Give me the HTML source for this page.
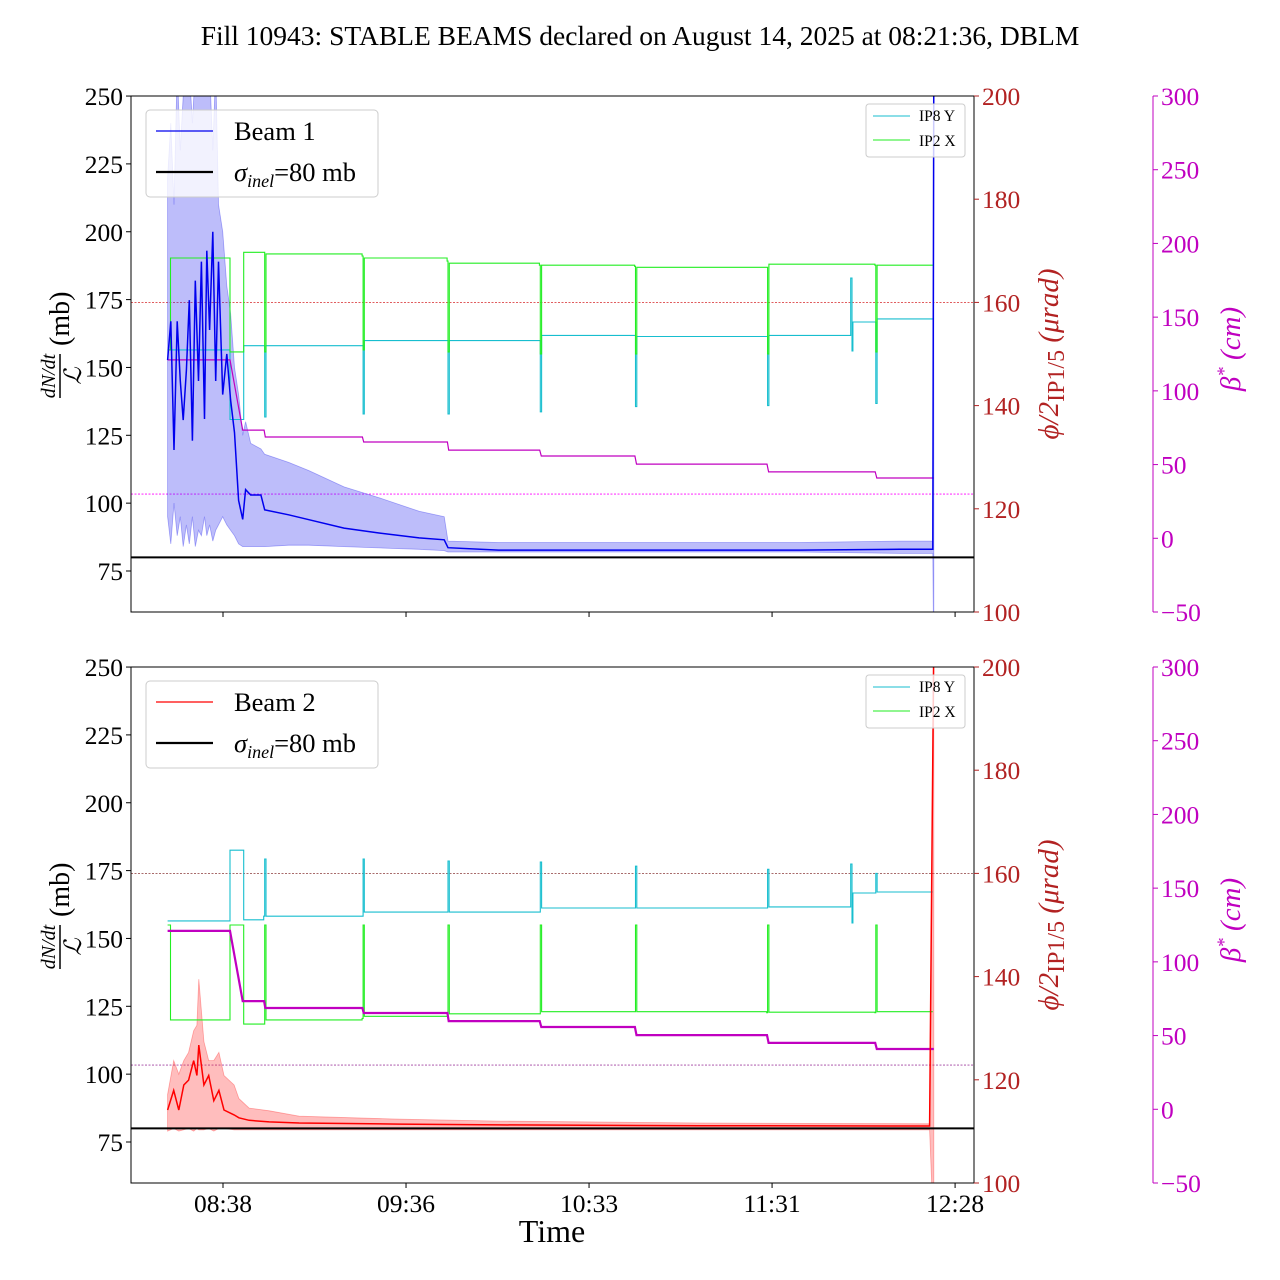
<!DOCTYPE html>
<html><head><meta charset="utf-8">
<style>
body{margin:0;background:#fff;}
svg{display:block;font-family:"Liberation Serif",serif;}
</style></head>
<body>
<svg id="chart" width="1280" height="1280" viewBox="0 0 1280 1280" xmlns="http://www.w3.org/2000/svg">
<defs>
<clipPath id="clipTop"><rect x="131" y="96" width="843" height="516"/></clipPath>
<clipPath id="clipBot"><rect x="131" y="667" width="843" height="516"/></clipPath>
</defs>
<text x="640" y="45" font-size="27.5" text-anchor="middle">Fill 10943: STABLE BEAMS declared on August 14, 2025 at 08:21:36, DBLM</text>
<g id="root"></g>
</svg>
<script>
// ---- data (time in minutes since midnight) ----
const xTickTimes = [518.4, 575.9, 633.4, 690.9, 748.4];
const xTickLabels = ["08:38", "09:36", "10:33", "11:31", "12:28"];
const yTicks = [75, 100, 125, 150, 175, 200, 225, 250];
const phiTicks = [100, 120, 140, 160, 180, 200];
const betaTicks = [-50, 0, 50, 100, 150, 200, 250, 300];

const b1Time = [501,502,503,504,505,505.9,506.9,507.8,508.8,509.7,510.7,511.6,512.6,513.3,514.2,515.2,516.1,517,518.3,519.6,520.8,522,523.3,524.6,525.5,527.1,530.3,531.5,539,545.4,556.4,567.4,580,587.9,589.1,605,636.6,668,699.5,731,741.4,741.7];
const b1Mean = [152.7,167,119.6,167,145,130.6,149,174.8,123,182,145,189,131,193,163.8,200,145,189,140,155,138,126,101,94,105,103,103,97.5,95.7,93.9,90.8,89,87.2,86.5,83.6,82.7,82.7,82.7,82.7,83,83,260];
const b1Hi = [220,240,210,260,230,250,260,260,240,260,260,260,260,260,260,230,260,210,200,180,170,150,140,125,130,122,120,118,115,112,106,102,97,95,86,85.5,85.5,85.5,85.5,86,86,260];
const b1Lo = [95,85,100,88,95,84,92,85,95,84,90,88,95,88,92,86,90,92,95,92,90,88,85,84,84,84,84,84,84.5,84.5,84,83.5,83,82.5,82,82,82,82,82,81.5,81.5,40];

const b2Time = [501,502.9,504.5,506.1,507.6,509.2,510.2,510.8,512.4,513.9,515.5,517.1,518.7,521.9,523.4,526.6,532.9,542.3,573.8,605.2,668.1,740.4,741.7];
const b2Mean = [86.8,94,86.8,96,97.8,105,99.5,110.7,96,99.5,90.2,94,86.8,85,83.9,83,82.4,82,81.6,81.3,81,80.9,260];
const b2Hi = [92.5,105,100,105,108,116,118,135,112,105,105,108,99.5,96,91,87.5,86.5,84.5,83.4,82.7,82,81.7,260];
const b2Lo = [79,80,79,79.5,80,79,80,79.5,79.5,80,79,80,80,79.5,79.5,79.5,79.5,79.5,79.5,79.5,79.5,79.5,40];

const ip8TopTime = [501,519.9,520.6,524.3,524.9,531.2,531.5,531.9,562.1,562.4,562.8,588.8,589.1,589.5,617.8,618.1,618.5,647.7,648,648.4,689.2,689.5,689.9,715.3,715.6,716,716.3,723.2,723.5,723.9,741.4];
const ip8TopVal = [150.8,150.8,137.3,137.3,151.6,151.6,137.8,151.6,151.6,138.4,152.6,152.6,138.4,152.6,152.6,138.8,153.6,153.6,139.8,153.4,153.4,140,153.6,153.6,164.7,150.6,156.2,156.2,140.4,156.8,156.8];
const ip2TopTime = [501,501.9,519.9,520.6,524.3,524.9,531.2,531.5,531.9,562.1,562.4,562.8,588.8,589.1,589.5,617.8,618.1,618.5,647.7,648,648.4,689.2,689.5,689.9,723.2,723.5,723.9,741.4];
const ip2TopVal = [150.8,168.6,168.6,150.4,150.4,169.7,169.7,150.4,169.4,169,150.8,168.6,168,150.4,167.6,167.2,150,167.2,167,150,166.8,166.8,150,167.4,167.2,150.4,167.2,167.2];
const betaTopTime = [501,520.6,524.6,531.3,531.7,562.2,562.6,588.9,589.3,617.9,618.4,647.8,648.3,689.3,689.8,723.3,723.8,741.7];
const betaTopVal = [121,121,73.4,73.4,68.7,68.7,65.3,65.3,59.8,59.8,55.8,55.8,50.3,50.3,45,45,40.9,40.9];

const ip8BotTime = [501,519.9,520.6,524.3,524.9,531.2,531.5,531.9,562.1,562.4,562.8,588.8,589.1,589.5,617.8,618.1,618.5,647.7,648,648.4,689.2,689.5,689.9,715.3,715.6,716,716.3,723.2,723.5,723.9,741.4];
const ip8BotVal = [150.8,150.8,164.5,164.5,151,151.7,162.8,151.7,151.7,162.8,152.5,152.5,162.4,152.5,152.5,162.2,153.3,153.3,161.4,153.3,153.3,160.8,153.5,153.5,161.8,150.4,156.2,156.2,160,156.4,156.4];
const ip2BotTime = [501,501.9,519.9,520.6,524.3,524.9,531.2,531.5,531.9,562.1,562.4,562.8,588.8,589.1,589.5,617.8,618.1,618.5,647.7,648,648.4,689.2,689.5,689.9,723.2,723.5,723.9,741.4];
const ip2BotVal = [150,131.6,131.6,150,150,130.8,130.8,150,131.6,131.9,150,132.3,132.3,150,132.8,132.8,150,133.2,133.2,150,133.2,133,150,133.1,133,150,133.2,133.2];
const betaBotTime = [501,520.6,524.6,531.3,531.7,562.2,562.6,588.9,589.3,617.9,618.4,647.8,648.3,689.3,689.8,723.3,723.8,741.7];
const betaBotVal = [121,121,73.4,73.4,68.7,68.7,65.3,65.3,59.8,59.8,55.8,55.8,50.3,50.3,45,45,40.9,40.9];

// ---- scales ----
const X = t => 223 + (t - 518.4) * 3.183;
function scales(off){
  return {
    Y: v => 571 + off - (v - 75) * 2.714,
    P: p => 612 + off - (p - 100) * 5.16,
    B: b => 612 + off - (b + 50) * 516 / 350,
    top: 96 + off, bot: 612 + off
  };
}
const NS = "http://www.w3.org/2000/svg";
const root = document.getElementById("root");
function mk(tag, attrs, parent){
  const e = document.createElementNS(NS, tag);
  for (const k in attrs) e.setAttribute(k, attrs[k]);
  (parent || root).appendChild(e);
  return e;
}
function pts(ts, vs, f){ return ts.map((t,i)=>X(t).toFixed(1)+","+f(vs[i]).toFixed(1)).join(" "); }
function stepPts(ts, vs, f){
  const out = [];
  for (let i = 0; i < ts.length; i++){
    out.push(X(ts[i]).toFixed(1)+","+f(vs[i]).toFixed(1));
    if (i < ts.length - 1) out.push(X(ts[i+1]).toFixed(1)+","+f(vs[i]).toFixed(1));
  }
  return out.join(" ");
}

function panel(off, clipId, beam, color, fillColor, bt, bm, bh, bl, i8t, i8v, i2t, i2v, btt, btv, betaW, showXLabels){
  const s = scales(off);
  const g = mk("g", {});
  
  
  const pg = mk("g", {"clip-path": "url(#" + clipId + ")"}, g);
  let e = mk("line", {x1:131, x2:974, y1:s.P(160), y2:s.P(160), stroke: beam===1?"#d62728":"#8b3a3a", "stroke-width":0.8, "stroke-dasharray":"2,1.5"}, pg);
  
  
  e = mk("line", {x1:131, x2:974, y1:s.B(30), y2:s.B(30), stroke: beam===1?"#ff00ff":"#a040a0", "stroke-width":0.8, "stroke-dasharray":"2,1.5"}, pg);
  
  
  const band = pts(bt, bh, s.Y) + " " + pts(bt.slice().reverse(), bl.slice().reverse(), s.Y);
  e = mk("polygon", {points: band, fill: fillColor, "fill-opacity": 0.32, stroke: fillColor, "stroke-opacity":0.4, "stroke-width":0.8}, pg);
  
  
  e = mk("polyline", {points: stepPts(i8t, i8v, s.P), fill:"none", stroke:"#17becf", "stroke-width":1.1}, pg);
  
  
  e = mk("polyline", {points: stepPts(i2t, i2v, s.P), fill:"none", stroke:"#22ee22", "stroke-width":1.1}, pg);
  
  
  e = mk("polyline", {points: pts(btt, btv, s.B), fill:"none", stroke:"#c000c0", "stroke-width":betaW}, pg);
  
  
  e = mk("polyline", {points: pts(bt, bm, s.Y), fill:"none", stroke: color, "stroke-width":1.5}, pg);
  
  
  e = mk("line", {x1:131, x2:974, y1:s.Y(80), y2:s.Y(80), stroke:"#000", "stroke-width":2}, pg);
  
  
  e = mk("rect", {x:131, y:s.top, width:843, height:516, fill:"none", stroke:"#000", "stroke-width":1}, g);
  
  
  yTicks.forEach(v=>{
    const y = s.Y(v);
    mk("line", {x1:126, x2:131, y1:y, y2:y, stroke:"#000"}, g);
    const t = mk("text", {x:123, y:y+9, "font-size":25.5, "text-anchor":"end"}, g);
    t.textContent = v;
    
    
  });
  phiTicks.forEach(v=>{
    const y = s.P(v);
    mk("line", {x1:974, x2:979, y1:y, y2:y, stroke:"#b22222"}, g);
    const t = mk("text", {x:982, y:y+9, "font-size":25.5, fill:"#b22222"}, g);
    t.textContent = v;
    
    
  });
  e = mk("line", {x1:1153, x2:1153, y1:s.top, y2:s.bot, stroke:"#c000c0", "stroke-width":1}, g);
  
  
  betaTicks.forEach(v=>{
    const y = s.B(v);
    mk("line", {x1:1153, x2:1158, y1:y, y2:y, stroke:"#c000c0"}, g);
    const t = mk("text", {x:1161, y:y+9, "font-size":25.5, fill:"#c000c0"}, g);
    t.textContent = (v<0?"\u2212"+(-v):v);
    
    
  });
  xTickTimes.forEach((tt,i)=>{
    const x = X(tt);
    mk("line", {x1:x, x2:x, y1:s.bot, y2:s.bot+5, stroke:"#000"}, g);
    if (showXLabels){
      const t = mk("text", {x:x, y:s.bot+29, "font-size":25.5, "text-anchor":"middle"}, g);
      t.textContent = xTickLabels[i];
      
      
    }
  });
  const cy = s.top + 258;
  const yl = mk("g", {transform:"translate(60," + cy + ") rotate(-90)"}, g);
  
  
  let t = mk("text", {x:-22, y:-5, "font-size":20, "font-style":"italic", "text-anchor":"middle"}, yl); t.textContent = "dN/dt";
  mk("line", {x1:-44, x2:0, y1:0, y2:0, stroke:"#000", "stroke-width":1.5}, yl);
  t = mk("text", {x:-22, y:21, "font-size":24, "font-style":"italic", "text-anchor":"middle"}, yl); t.textContent = "\u2112";
  t = mk("text", {x:8, y:9, "font-size":28}, yl); t.textContent = "(mb)";
  const pl = mk("text", {transform:"translate(1058," + cy + ") rotate(-90)", "font-size":29, fill:"#b22222", "text-anchor":"middle", "font-style":"italic"}, g);
  
  
  pl.innerHTML = 'ϕ/2<tspan font-style="normal" font-size="24" dy="6">IP1/5</tspan><tspan dy="-6"> (μrad)</tspan>';
  const bl2 = mk("text", {transform:"translate(1240," + (cy-5) + ") rotate(-90)", "font-size":29, fill:"#c000c0", "text-anchor":"middle", "font-style":"italic"}, g);
  
  
  bl2.innerHTML = 'β<tspan font-size="19" dy="-10">*</tspan><tspan dy="10"> (cm)</tspan>';
  const lg = mk("g", {}, g);
  
  
  mk("rect", {x:146, y:s.top+14, width:232, height:87, rx:4, fill:"#fff", "fill-opacity":0.8, stroke:"#ccc"}, lg);
  mk("line", {x1:156, x2:213, y1:s.top+35, y2:s.top+35, stroke:color, "stroke-width":1.2}, lg);
  t = mk("text", {x:234, y:s.top+44, "font-size":26.5}, lg); t.textContent = "Beam " + beam;
  mk("line", {x1:156, x2:213, y1:s.top+76, y2:s.top+76, stroke:"#000", "stroke-width":2.2}, lg);
  t = mk("text", {x:234, y:s.top+85, "font-size":26.5}, lg);
  t.innerHTML = '<tspan font-style="italic">σ</tspan><tspan font-style="italic" font-size="18" dy="6">inel</tspan><tspan dy="-6">=80 mb</tspan>';
  const sl = mk("g", {}, g);
  
  
  mk("rect", {x:866, y:s.top+8, width:99, height:53, rx:3, fill:"#fff", "fill-opacity":0.8, stroke:"#ccc"}, sl);
  mk("line", {x1:873, x2:910, y1:s.top+20, y2:s.top+20, stroke:"#17becf", "stroke-width":1.1}, sl);
  t = mk("text", {x:919, y:s.top+25, "font-size":15.5}, sl); t.textContent = "IP8 Y";
  mk("line", {x1:873, x2:910, y1:s.top+44, y2:s.top+44, stroke:"#22ee22", "stroke-width":1.1}, sl);
  t = mk("text", {x:919, y:s.top+50, "font-size":15.5}, sl); t.textContent = "IP2 X";
}

panel(0, "clipTop", 1, "#0000ee", "#3333ee", b1Time, b1Mean, b1Hi, b1Lo, ip8TopTime, ip8TopVal, ip2TopTime, ip2TopVal, betaTopTime, betaTopVal, 1.2, false);
panel(571, "clipBot", 2, "#ff0000", "#ff3333", b2Time, b2Mean, b2Hi, b2Lo, ip8BotTime, ip8BotVal, ip2BotTime, ip2BotVal, betaBotTime, betaBotVal, 2.2, true);

const xt = mk("text", {x:552, y:1242, "font-size":32, "text-anchor":"middle"});
xt.textContent = "Time";


</script>
</body></html>
